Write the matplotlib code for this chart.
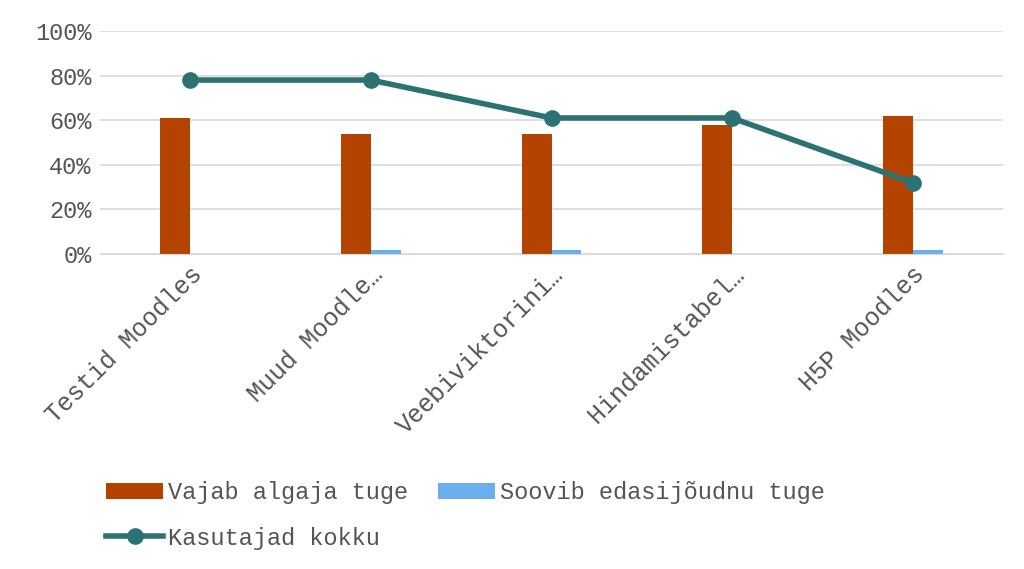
import matplotlib
matplotlib.use("Agg")
import matplotlib.pyplot as plt
import numpy as np

categories = ["Testid Moodles", "Muud Moodle…", "Veebiviktorini…", "Hindamistabel…", "H5P Moodles"]
algaja = [61, 54, 54, 58, 62]
edasi = [0, 2, 2, 0, 2]
kokku = [78, 78, 61, 61, 32]
yticks = [0, 20, 40, 60, 80, 100]

plt.rcParams['font.family'] = ['Liberation Mono', 'DejaVu Sans Mono']
fig = plt.figure(figsize=(10.24, 5.69), dpi=100)
ax = fig.add_axes([100/1024, 1-254/569, 903/1024, 223/569])
x = np.arange(len(categories))
w = 0.166
b1 = ax.bar(x - w/2, algaja, w, color='#B54300', label='Vajab algaja tuge', zorder=2)
b2 = ax.bar(x + w/2, edasi, w, color='#6AAEEE', label='Soovib edasijõudnu tuge', zorder=2)
l, = ax.plot(x, kokku, color='#2D7272', lw=4, marker='o', ms=11, label='Kasutajad kokku', zorder=3)
ax.set_xlim(-0.5, 4.5)
ax.set_ylim(0, 100)
ax.set_yticks(yticks)
ax.set_yticklabels([f"{v}%" for v in yticks], fontsize=17, color='#555555')
ax.set_xticks(x)
ax.set_xticklabels(categories, rotation=45, ha='right', rotation_mode='anchor', fontsize=18, color='#555555')
ax.tick_params(length=0, pad=6)
ax.grid(axis='y', color='#D9D9D9', lw=1.2, zorder=0)
for s in ['top', 'right', 'left']:
    ax.spines[s].set_visible(False)
ax.spines['bottom'].set_color('#D9D9D9')
fig.legend(handles=[b1, l, b2], loc='upper left', bbox_to_anchor=(85/1024, 1-460/569), ncol=2,
           frameon=False, fontsize=17, columnspacing=1.3, handlelength=2.4, handletextpad=0.2,
           labelspacing=0.95, labelcolor='#555555')
fig.savefig("out.png", dpi=100)
